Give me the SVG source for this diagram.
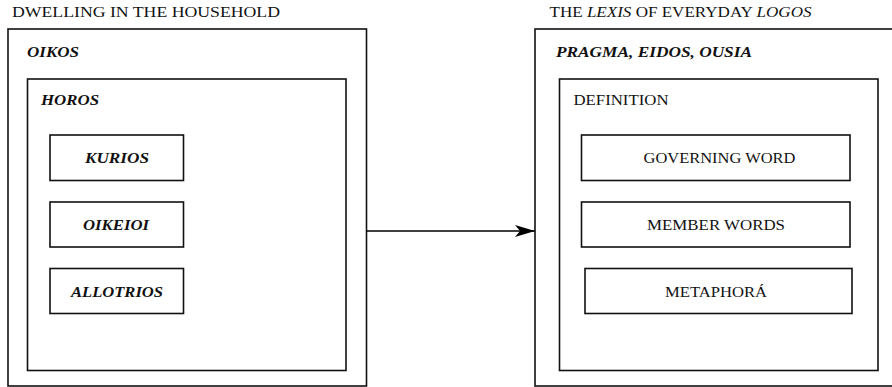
<svg xmlns="http://www.w3.org/2000/svg" width="892" height="387" viewBox="0 0 892 387">
<style>
rect{fill:none;stroke:#111;stroke-width:1.6}
text{font-family:"Liberation Serif","Times New Roman",serif;font-size:14.5px;fill:#111}
.it{font-style:italic;font-weight:bold}
.edge{stroke:#000;stroke-width:1.5;fill:none}
</style>
<defs>
<marker id="arr" viewBox="0 0 20 12" refX="20" refY="6" markerWidth="20" markerHeight="12" markerUnits="userSpaceOnUse" orient="auto">
<path d="M0,0 L20,6 L0,12 L5,6 Z" fill="#000"/>
</marker>
</defs>
<rect width="892" height="387" style="fill:#fff;stroke:none"/>
<g id="left">
<text x="12" y="17" textLength="268" lengthAdjust="spacingAndGlyphs">DWELLING IN THE HOUSEHOLD</text>
<g id="oikos"><rect x="8" y="29" width="358.5" height="357"/><text class="it" x="27" y="57" textLength="52" lengthAdjust="spacingAndGlyphs">OIKOS</text></g>
<g id="horos"><rect x="27.5" y="79" width="318.5" height="291.5"/><text class="it" x="41" y="105" textLength="58" lengthAdjust="spacingAndGlyphs">HOROS</text></g>
<g id="kurios"><rect x="50" y="135" width="133.5" height="45.5"/><text class="it" x="85" y="163" textLength="64" lengthAdjust="spacingAndGlyphs">KURIOS</text></g>
<g id="oikeioi"><rect x="50" y="202" width="133.5" height="45"/><text class="it" x="83" y="230" textLength="66" lengthAdjust="spacingAndGlyphs">OIKEIOI</text></g>
<g id="allotrios"><rect x="50" y="268.5" width="133.5" height="45"/><text class="it" x="71" y="297" textLength="92" lengthAdjust="spacingAndGlyphs">ALLOTRIOS</text></g>
</g>
<g id="right">
<text x="549.5" y="17" textLength="262" lengthAdjust="spacingAndGlyphs">THE <tspan font-style="italic">LEXIS</tspan> OF EVERYDAY <tspan font-style="italic">LOGOS</tspan></text>
<g id="pragma"><rect x="535" y="29" width="370" height="357"/><text class="it" x="556" y="57" textLength="196" lengthAdjust="spacingAndGlyphs">PRAGMA, EIDOS, OUSIA</text></g>
<g id="definition"><rect x="559.5" y="79" width="318.5" height="291.5"/><text x="573.5" y="105" textLength="95" lengthAdjust="spacingAndGlyphs">DEFINITION</text></g>
<g id="governing"><rect x="581.5" y="135" width="268.5" height="45.5"/><text x="643.5" y="163" textLength="152" lengthAdjust="spacingAndGlyphs">GOVERNING WORD</text></g>
<g id="member"><rect x="581.5" y="202" width="268.5" height="45"/><text x="647" y="230" textLength="138" lengthAdjust="spacingAndGlyphs">MEMBER WORDS</text></g>
<g id="metaphora"><rect x="585" y="268.5" width="267" height="45"/><text x="665" y="297" textLength="102" lengthAdjust="spacingAndGlyphs">METAPHORÁ</text></g>
</g>
<g id="connectors">
<line class="edge" x1="366.5" y1="231" x2="535" y2="231" marker-end="url(#arr)"/>
</g>
</svg>
